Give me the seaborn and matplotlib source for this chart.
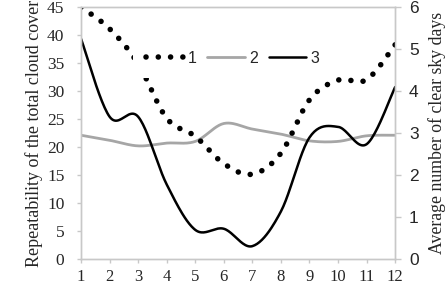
import matplotlib
matplotlib.use("Agg")
import matplotlib.pyplot as plt
import seaborn as sns
import numpy as np
import pandas as pd

# monthly values
months = [1, 2, 3, 4, 5, 6, 7, 8, 9, 10, 11, 12]
clear_days = [6.0, 5.48, 4.65, 3.35, 2.92, 2.27, 2.02, 2.52, 3.79, 4.26, 4.27, 5.1]   # series 1, right axis
cloud_2 = [22.1, 21.2, 20.2, 20.7, 21.0, 24.2, 23.2, 22.3, 21.1, 21.0, 22.0, 22.1]    # series 2, left axis
cloud_3 = [39.3, 25.4, 25.4, 13.3, 5.2, 5.4, 2.3, 8.5, 21.7, 23.6, 20.5, 30.7]        # series 3, left axis

serif = "Liberation Serif"
sans = "Liberation Sans"


def smooth(x, y, n=24):
    # Excel style smoothed line: bezier segments through the points
    p = np.column_stack([x, y]).astype(float)
    out = []
    for i in range(len(p) - 1):
        p0 = p[i - 1] if i > 0 else p[i]
        p1, p2 = p[i], p[i + 1]
        p3 = p[i + 2] if i + 2 < len(p) else p[i + 1]
        c1 = p1 + (p2 - p0) / 6
        c2 = p2 - (p3 - p1) / 6
        t = np.linspace(0, 1, n, endpoint=(i == len(p) - 2))[:, None]
        out.append((1 - t) ** 3 * p1 + 3 * (1 - t) ** 2 * t * c1 + 3 * (1 - t) * t ** 2 * c2 + t ** 3 * p2)
    s = np.vstack(out)
    return pd.DataFrame({"x": s[:, 0], "y": s[:, 1]})


sns.set_style("white")
fig = plt.figure(figsize=(4.48, 2.85), dpi=100)
ax = fig.add_axes([0.181, 0.0912, 0.701, 0.8842])
ax2 = ax.twinx()

grey = "#a6a6a6"
sns.lineplot(data=smooth(months, cloud_2), x="x", y="y", ax=ax, color=grey, lw=2.0,
             sort=False, estimator=None, label="2", legend=False)
sns.lineplot(data=smooth(months, cloud_3), x="x", y="y", ax=ax, color="black", lw=1.8,
             sort=False, estimator=None, label="3", legend=False)
sns.lineplot(data=smooth(months, clear_days), x="x", y="y", ax=ax2, color="black", lw=4.0,
             sort=False, estimator=None, label="1", legend=False,
             linestyle=(0, (0.01, 2.2)), dash_capstyle="round")

ax.set_xlim(1, 12)
ax.set_ylim(0, 45)
ax2.set_ylim(0, 6)
ax.set_xticks(months)
ax.set_yticks(range(0, 46, 5))
ax2.set_yticks(range(0, 7))

for a in (ax, ax2):
    for s in a.spines.values():
        s.set_color("#c8c8c8")
        s.set_linewidth(1.0)

ax.tick_params(axis="y", length=3, width=1, color="#c8c8c8", pad=9,
               labelsize=12.5, left=True)
ax.tick_params(axis="x", length=3, width=1, color="#c8c8c8", pad=4,
               labelsize=12, bottom=True)
ax2.tick_params(axis="y", length=4, width=1, color="#c8c8c8", pad=6, labelsize=12.5, right=True)
for lab in ax.get_xticklabels() + ax.get_yticklabels():
    lab.set_fontfamily(serif)
for lab in ax2.get_yticklabels():
    lab.set_fontfamily(sans)

ax.set_xlabel("")
ax.set_ylabel("Repeatability of the total cloud cover", fontfamily=serif, fontsize=13, labelpad=3)
ax2.set_ylabel("Average number of clear sky days", fontfamily=serif, fontsize=12.8, labelpad=7)

h1, l1 = ax2.get_legend_handles_labels()
h2, l2 = ax.get_legend_handles_labels()
leg = ax2.legend(h1 + h2, l1 + l2, loc="center", bbox_to_anchor=(0.482, 0.797), ncol=3,
                 frameon=True, facecolor="white", edgecolor="none", framealpha=1.0,
                 handlelength=2.35, handletextpad=0.25, columnspacing=0.7,
                 borderpad=0.8, prop={"family": sans, "size": 11.5})
leg.set_zorder(10)

plt.savefig("out.png", dpi=100)
plt.close()
